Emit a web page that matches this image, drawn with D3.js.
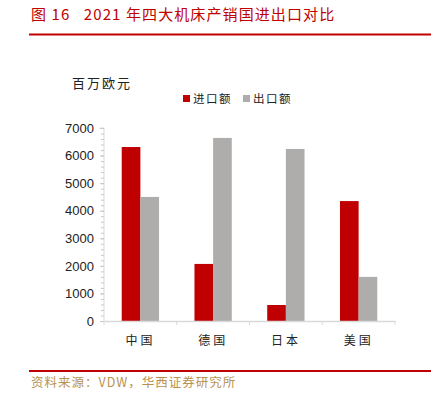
<!DOCTYPE html>
<html>
<head>
<meta charset="utf-8">
<script src="https://cdn.jsdelivr.net/npm/d3@7"></script>
<style>
  body { margin: 0; background: #fff; }
  text { font-family: "Noto Sans CJK SC", "DejaVu Sans", sans-serif; white-space: pre; }
</style>
</head>
<body>
<div id="chart"></div>
<script>
// data
const categories = ["中国", "德国", "日本", "美国"];
const importValues = [6310, 2070, 580, 4350];
const exportValues = [4500, 6640, 6240, 1600];
const seriesNames = ["进口额", "出口额"];
const yTicks = [0, 1000, 2000, 3000, 4000, 5000, 6000, 7000];

const width = 431;
const height = 396;
const marginTop = 128;
const marginBottom = 75;
const marginLeft = 104;
const marginRight = 36;

const red = "#c00000";
const gray = "#aeadac";

const svg = d3.create("svg")
    .attr("width", width)
    .attr("height", height);

// title
svg.append("text")
    .text("图 16   2021 年四大机床产销国进出口对比")
    .attr("x", 31)
    .attr("y", 20)
    .attr("fill", "#c00000")
    .attr("font-size", 15)
    .attr("letter-spacing", 1.1);

svg.append("line")
    .attr("x1", 29).attr("x2", width)
    .attr("y1", 34.5).attr("y2", 34.5)
    .attr("stroke", "#c00000")
    .attr("stroke-width", 2);

// scales
const x = d3.scaleBand(categories, [marginLeft, width - marginRight])
    .paddingInner(0)
    .paddingOuter(0);

const y = d3.scaleLinear([0, 7000], [height - marginBottom, marginTop]);

const sub = d3.scaleBand([0, 1], [0, x.bandwidth()])
    .paddingInner(0)
    .paddingOuter(0.95);

// bars
const groups = svg.append("g")
    .selectAll("g")
    .data(categories)
    .join("g")
    .attr("transform", d => `translate(${x(d)},0)`);

groups.append("rect")
    .attr("x", sub(0))
    .attr("width", sub.bandwidth())
    .attr("y", (d, i) => y(importValues[i]))
    .attr("height", (d, i) => y(0) - y(importValues[i]))
    .attr("fill", red);

groups.append("rect")
    .attr("x", sub(1))
    .attr("width", sub.bandwidth())
    .attr("y", (d, i) => y(exportValues[i]))
    .attr("height", (d, i) => y(0) - y(exportValues[i]))
    .attr("fill", gray);

// y axis with minor ticks
const yAxis = svg.append("g")
    .attr("transform", `translate(${marginLeft},0)`)
    .call(d3.axisLeft(y).tickValues(yTicks).tickSize(4).tickPadding(6).tickFormat(d3.format("d")));

const yMinor = svg.append("g")
    .attr("transform", `translate(${marginLeft},0)`)
    .call(d3.axisLeft(y).tickValues(d3.range(0, 7001, 200)).tickSize(3).tickFormat(""));

yMinor.select(".domain").remove();
yMinor.selectAll("line").attr("stroke", "#c8c8c8");
yAxis.selectAll("line").attr("stroke", "#c8c8c8");
yAxis.select(".domain").attr("stroke", "#d9d9d9").attr("d", `M-4,${marginTop}H0V${height - marginBottom}`);
yAxis.selectAll("text")
    .attr("font-size", 13)
    .attr("fill", "#222")
    .style("font-family", "Liberation Sans, Arial, sans-serif");

// x axis
const xAxis = svg.append("g")
    .attr("transform", `translate(0,${height - marginBottom})`)
    .call(d3.axisBottom(x).tickSize(0).tickPadding(15));

xAxis.select(".domain").attr("stroke", "#d9d9d9").attr("stroke-width", 1.5);
xAxis.selectAll("text")
    .attr("font-size", 12)
    .attr("fill", "#222")
    .attr("letter-spacing", 3);

svg.append("g")
    .selectAll("line")
    .data(categories.concat([null]))
    .join("line")
    .attr("x1", (d, i) => i < categories.length ? x(d) : x.range()[1])
    .attr("x2", (d, i) => i < categories.length ? x(d) : x.range()[1])
    .attr("y1", height - marginBottom)
    .attr("y2", height - marginBottom + 4)
    .attr("stroke", "#d9d9d9");

// unit label
svg.append("text")
    .text("百万欧元")
    .attr("x", 72)
    .attr("y", 88)
    .attr("font-size", 13)
    .attr("letter-spacing", 2)
    .attr("fill", "#222");

// legend
const legend = svg.append("g")
    .selectAll("g")
    .data(seriesNames)
    .join("g")
    .attr("transform", (d, i) => `translate(${183 + i * 60},95)`);

legend.append("rect")
    .attr("width", 7)
    .attr("height", 7)
    .attr("fill", (d, i) => i == 0 ? red : gray);

legend.append("text")
    .text(d => d)
    .attr("x", 10)
    .attr("y", 8)
    .attr("font-size", 11.5)
    .attr("letter-spacing", 1.5)
    .attr("fill", "#222");

// footer
svg.append("line")
    .attr("x1", 29).attr("x2", width)
    .attr("y1", 371).attr("y2", 371)
    .attr("stroke", "#c00000")
    .attr("stroke-width", 2);

svg.append("text")
    .text("资料来源：VDW，华西证券研究所")
    .attr("x", 31)
    .attr("y", 387)
    .attr("font-size", 12.5)
    .attr("letter-spacing", 1)
    .attr("fill", "#b8924f");

chart.append(svg.node());
</script>
</body>
</html>
